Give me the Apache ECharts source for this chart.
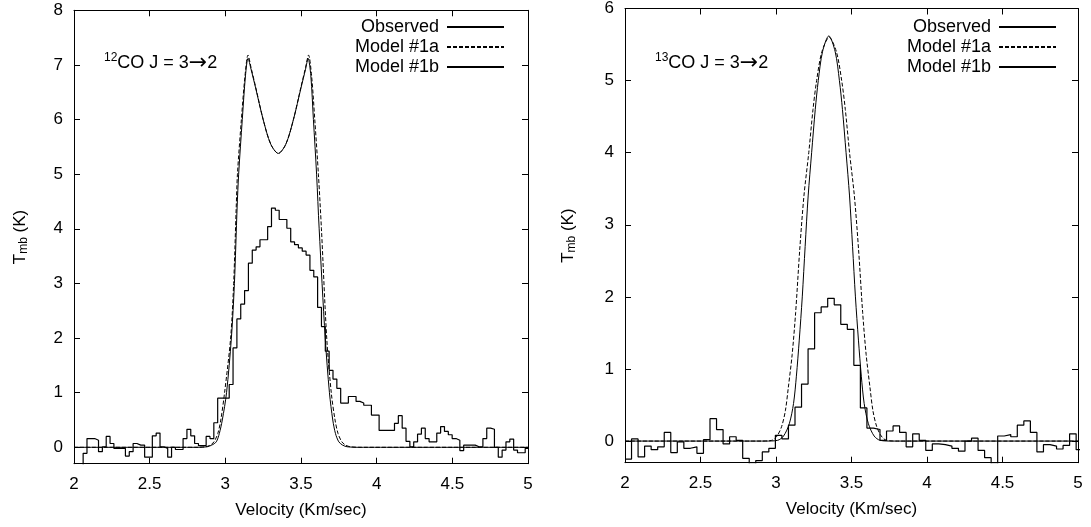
<!DOCTYPE html>
<html><head><meta charset="utf-8">
<script src="https://cdn.jsdelivr.net/npm/echarts@6/dist/echarts.min.js"></script>
<style>html,body{margin:0;padding:0;background:#fff}#c{width:1091px;height:527px}</style>
</head><body><div id="c"></div>
<script>
// ---------- DATA ----------
const seriesNames = ['Observed', 'Model #1a', 'Model #1b'];
const xTicks = [2, 2.5, 3, 3.5, 4, 4.5, 5];
const yTicksLeft = [0, 1, 2, 3, 4, 5, 6, 7, 8];
const yTicksRight = [0, 1, 2, 3, 4, 5, 6];

// 12CO observed spectrum: channel start velocity, channel width, Tmb per channel
const obs12Start = 2.035, obs12Width = 0.0254;
const obs12T = [-0.35,-0.11,0.16,0.16,0.13,-0.08,0.01,0.20,0.07,-0.02,
  -0.02,-0.02,-0.16,-0.08,0.07,0.04,0.04,-0.18,-0.18,0.21,
  0.26,0.01,-0.02,-0.18,0.00,-0.04,-0.04,0.16,0.33,0.21,
  0.07,0.03,0.03,0.20,0.16,0.45,0.90,0.90,0.90,1.15,
  1.82,2.35,2.62,2.87,3.37,3.61,3.67,3.80,3.80,4.04,
  4.38,4.34,4.17,4.17,4.01,3.76,3.71,3.65,3.59,3.52,
  3.24,3.12,2.56,2.21,1.76,1.41,1.25,1.08,0.81,0.81,
  0.93,0.93,0.84,0.81,0.77,0.77,0.59,0.59,0.31,0.31,
  0.31,0.31,0.44,0.58,0.35,0.11,0.01,0.10,0.24,0.35,
  0.16,0.10,0.10,0.26,0.38,0.29,0.23,0.16,0.13,-0.06,
  0.04,0.04,0.04,0.01,0.01,0.16,0.35,0.33,0.00,-0.18,
  -0.05,0.10,0.15,-0.05,-0.10,-0.10,-0.02];

// 12CO model curves [velocity, Tmb]
const model12a = [[2.0,0],[2.8,0],[2.87,0.01],[2.9,0.04],[2.925,0.1],[2.95,0.25],[2.97,0.5],[2.995,1.0],[3.035,2.0],[3.055,3.0],[3.072,4.4],[3.08,5.0],[3.106,6.0],[3.13,6.8],[3.15,7.18],[3.17,6.95],[3.2,6.6],[3.25,6.0],[3.3,5.55],[3.35,5.38],[3.4,5.55],[3.45,6.0],[3.5,6.6],[3.53,6.95],[3.55,7.18],[3.57,6.8],[3.591,6.0],[3.615,5.0],[3.635,4.0],[3.67,2.0],[3.7,1.0],[3.725,0.5],[3.745,0.25],[3.77,0.1],[3.795,0.04],[3.825,0.01],[3.9,0],[5.0,0]];
const model12b = [[2.0,0],[2.82,0],[2.88,0.01],[2.91,0.04],[2.94,0.1],[2.96,0.25],[2.98,0.5],[3.008,1.0],[3.04,2.0],[3.06,3.0],[3.078,4.4],[3.088,5.0],[3.112,6.0],[3.133,6.8],[3.15,7.12],[3.17,6.92],[3.2,6.58],[3.25,6.0],[3.3,5.55],[3.35,5.38],[3.4,5.55],[3.45,6.0],[3.5,6.58],[3.53,6.92],[3.547,7.12],[3.565,6.8],[3.582,6.0],[3.603,5.0],[3.62,4.0],[3.66,2.0],[3.688,1.0],[3.71,0.5],[3.728,0.25],[3.75,0.1],[3.775,0.04],[3.805,0.01],[3.88,0],[5.0,0]];

// 13CO observed spectrum
const obs13Start = 2.0, obs13Width = 0.0433;
const obs13T = [-0.25,0.03,-0.22,-0.07,-0.12,-0.08,0.12,-0.16,-0.01,-0.10,
  -0.08,-0.17,0.02,0.31,0.16,-0.04,0.06,0.01,-0.24,-0.32,
  -0.27,-0.15,-0.10,0.08,0.03,0.22,0.47,0.79,1.28,1.78,
  1.86,1.98,1.89,1.62,1.55,1.05,0.46,0.18,0.16,0.01,
  0.14,0.21,0.12,-0.08,0.10,0.01,-0.13,-0.04,-0.05,-0.07,
  -0.10,-0.14,0.00,0.04,-0.13,-0.23,-0.32,0.07,0.09,0.06,
  0.22,0.28,0.12,-0.15,-0.05,-0.07,-0.11,-0.06,0.10,-0.12];

// 13CO model curves
const model13a = [[2.0,0],[2.902,0],[2.972,0.01],[3.007,0.07],[3.037,0.2],[3.062,0.42],[3.082,0.75],[3.107,1.2],[3.13,1.78],[3.157,2.65],[3.185,3.4],[3.217,4.0],[3.245,4.6],[3.269,5.0],[3.304,5.4],[3.352,5.6],[3.4,5.4],[3.435,5.0],[3.459,4.6],[3.487,4.0],[3.519,3.4],[3.547,2.65],[3.574,1.78],[3.597,1.2],[3.622,0.75],[3.642,0.42],[3.667,0.2],[3.697,0.07],[3.732,0.01],[3.802,0],[5.0,0]];
const model13b = [[2.0,0],[2.93,0],[3.01,0.01],[3.05,0.07],[3.088,0.24],[3.116,0.52],[3.135,0.9],[3.154,1.4],[3.174,2.0],[3.193,2.7],[3.213,3.4],[3.236,4.0],[3.26,4.6],[3.28,5.0],[3.308,5.4],[3.35,5.62],[3.392,5.4],[3.42,5.0],[3.44,4.6],[3.464,4.0],[3.487,3.4],[3.507,2.7],[3.526,2.0],[3.546,1.4],[3.565,0.9],[3.584,0.52],[3.612,0.24],[3.65,0.07],[3.69,0.01],[3.77,0],[5.0,0]];

const labels = ['{sup|12}CO J = 3{arr|\u2192}2', '{sup|13}CO J = 3{arr|\u2192}2'];
const xName = 'Velocity (Km/sec)';
const yName = 'T{sub|mb} (K)';

// ---------- BUILD ----------
function stepData(start, width, vals) {
  const d = vals.map((t, k) => [start + k * width, t]);
  d.push([start + vals.length * width, vals[vals.length - 1]]);
  return d;
}
const FONT = 'Liberation Sans, Arial, Helvetica, sans-serif';
const FS = 17;
const grids = [
  {left: 74, top: 10.3, width: 454, height: 453.4},
  {left: 625, top: 8.5, width: 453, height: 454.2}
];
const xAxes = [], yAxes = [];
[0, 1].forEach(g => {
  const common = {gridIndex: g, type: 'value', min: 2, max: 5, interval: 0.5,
    axisLine: {show: true, onZero: false, lineStyle: {color: '#000', width: 1}},
    axisTick: {show: true, inside: true, length: 6, lineStyle: {color: '#000'}},
    splitLine: {show: false}};
  xAxes.push(Object.assign({}, common, {position: 'bottom',
    name: xName, nameLocation: 'middle', nameGap: 38,
    nameTextStyle: {fontFamily: FONT, fontSize: FS, color: '#000'},
    axisLabel: {show: true, margin: 12, fontFamily: FONT, fontSize: FS, color: '#000',
      customValues: xTicks}}));
  xAxes.push(Object.assign({}, common, {position: 'top', axisLabel: {show: false}}));
  const ymax = g === 0 ? 8 : 6;
  const yt = g === 0 ? yTicksLeft : yTicksRight;
  const ycommon = {gridIndex: g, type: 'value', min: -0.3, max: ymax,
    axisLine: {show: true, onZero: false, lineStyle: {color: '#000', width: 1}},
    axisTick: {show: true, inside: true, length: 6, lineStyle: {color: '#000'}, customValues: yt},
    splitLine: {show: false}};
  yAxes.push(Object.assign({}, ycommon, {position: 'left',
    name: yName, nameLocation: 'middle', nameRotate: 90, nameGap: g === 0 ? 44 : 47,
    nameTextStyle: {fontFamily: FONT, fontSize: FS, color: '#000',
      rich: {sub: {fontFamily: FONT, fontSize: 12, color: '#000', verticalAlign: 'bottom', padding: [8, 0, 0, 0]}}},
    axisLabel: {show: true, margin: 11, fontFamily: FONT, fontSize: FS, color: '#000', customValues: yt}}));
  yAxes.push(Object.assign({}, ycommon, {position: 'right', axisLabel: {show: false}}));
});

const lineBase = {type: 'line', showSymbol: false, symbol: 'none', clip: true, animation: false,
  itemStyle: {color: '#000'}};
const series = [
  Object.assign({}, lineBase, {name: 'Observed', xAxisIndex: 0, yAxisIndex: 0, step: 'end',
    data: stepData(obs12Start, obs12Width, obs12T), lineStyle: {color: '#000', width: 1.2}, z: 3}),
  Object.assign({}, lineBase, {name: 'Model #1a', xAxisIndex: 0, yAxisIndex: 0, smooth: 0.3,
    data: model12a, lineStyle: {color: '#000', width: 1, type: [4, 2]}, z: 2}),
  Object.assign({}, lineBase, {name: 'Model #1b', xAxisIndex: 0, yAxisIndex: 0, smooth: 0.3,
    data: model12b, lineStyle: {color: '#000', width: 1}, z: 2}),
  Object.assign({}, lineBase, {name: 'Observed', xAxisIndex: 2, yAxisIndex: 2, step: 'end',
    data: stepData(obs13Start, obs13Width, obs13T), lineStyle: {color: '#000', width: 1.2}, z: 3}),
  Object.assign({}, lineBase, {name: 'Model #1a', xAxisIndex: 2, yAxisIndex: 2, smooth: 0.3,
    data: model13a, lineStyle: {color: '#000', width: 1, type: [4, 2]}, z: 2}),
  Object.assign({}, lineBase, {name: 'Model #1b', xAxisIndex: 2, yAxisIndex: 2, smooth: 0.3,
    data: model13b, lineStyle: {color: '#000', width: 1}, z: 2})
];

const legendCommon = {orient: 'vertical', align: 'right', itemWidth: 57, itemHeight: 14, itemGap: 2,
  padding: 0, data: seriesNames, selectedMode: false, inactiveColor: '#000',
  itemStyle: {opacity: 0},
  textStyle: {fontFamily: FONT, fontSize: 18, color: '#000', padding: [0, 3, 0, 0]}};
const titleStyle = {fontFamily: FONT, fontSize: 18, fontWeight: 'normal', color: '#000',
  rich: {
    sup: {fontFamily: FONT, fontSize: 12, color: '#000', verticalAlign: 'top', padding: [0, 0, 8, 0]},
    arr: {fontFamily: 'DejaVu Sans', fontSize: 22, color: '#000'}
  }};

const chart = echarts.init(document.getElementById('c'), null, {renderer: 'canvas'});
chart.setOption({
  backgroundColor: '#fff',
  animation: false,
  grid: grids,
  xAxis: xAxes,
  yAxis: yAxes,
  legend: [
    Object.assign({}, legendCommon, {right: 1091 - 505, top: 18}),
    Object.assign({}, legendCommon, {right: 1091 - 1057, top: 18})
  ],
  title: [
    {text: labels[0], left: 104, top: 52, padding: 0, textStyle: titleStyle},
    {text: labels[1], left: 655, top: 52, padding: 0, textStyle: titleStyle}
  ],
  series: series
});
</script></body></html>
